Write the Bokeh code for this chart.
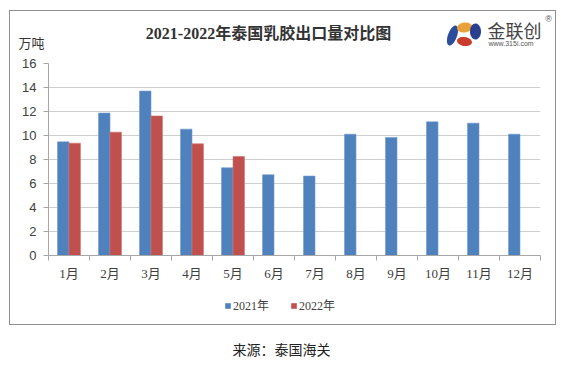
import numpy as np
from bokeh.plotting import figure
from bokeh.models import (ColumnDataSource, FixedTicker, Label, Legend, LegendItem,
                          Div, Range1d)
from bokeh.layouts import column
from bokeh.embed import file_html
from bokeh.resources import INLINE

months = ["1月", "2月", "3月", "4月", "5月", "6月", "7月", "8月", "9月", "10月", "11月", "12月"]
v2021 = [9.47, 11.87, 13.7, 10.53, 7.31, 6.73, 6.62, 10.11, 9.84, 11.14, 11.03, 10.11]
months_2022 = months[:5]
v2022 = [9.36, 10.28, 11.63, 9.31, 8.25]
y_ticks = [0, 2, 4, 6, 8, 10, 12, 14, 16]

title_text = "2021-2022年泰国乳胶出口量对比图"
unit_text = "万吨"
source_text = "来源：泰国海关"
series_names = ["2021年", "2022年"]

BLUE = "#4F81BD"
RED = "#C0504D"
CJK = "Noto Sans CJK SC"
SERIF = "Liberation Serif, Noto Sans CJK SC"

W = 545
HH = 42          # header height
CH = 237         # chart height
FH = 34          # footer (legend) height

OX, OY = 10, 11  # page position of the boxed content origin


def blank(height):
    f = figure(width=W, height=height, output_backend="svg", toolbar_location=None,
               x_range=Range1d(0, W), y_range=Range1d(0, height),
               x_axis_type=None, y_axis_type=None, title=None,
               min_border=0, min_border_left=0, min_border_right=0,
               min_border_top=0, min_border_bottom=0)
    f.frame_align = False
    f.grid.visible = False
    f.outline_line_color = None
    f.background_fill_color = "white"
    f.border_fill_color = "white"
    return f


# ---------------- header (title, unit, logo) ----------------
h = blank(HH)


def hx(px):
    return px - OX


def hy(py):
    return HH - (py - OY)


h.add_layout(Label(x=hx(268), y=hy(32.5), text=title_text,
                   text_align="center", text_baseline="middle", text_font=SERIF,
                   text_font_size="16px", text_font_style="bold", text_color="#333333"))
h.add_layout(Label(x=hx(18), y=hy(42), text=unit_text,
                   text_align="left", text_baseline="middle", text_font=CJK,
                   text_font_size="13px", text_color="#333333"))


def ell(cx, cy, rx, ry, ang):
    t = np.linspace(0, 2 * np.pi, 40)
    xs = rx * np.cos(t)
    ys = ry * np.sin(t)
    c, s = np.cos(ang), np.sin(ang)
    return ([hx(cx + a * c - b * s) for a, b in zip(xs, ys)],
            [hy(cy + a * s + b * c) for a, b in zip(xs, ys)])


for (cx, cy, rx, ry, ang, col) in [(452, 35, 4.5, 10.5, 0.35, "#2E4C9C"),
                                   (464, 27, 7.5, 5, -0.15, "#E9A23B"),
                                   (464, 41, 7.5, 4.5, 0.15, "#C93B2C"),
                                   (475, 31, 5.5, 8, 0.0, "#2B3F8F")]:
    xs, ys = ell(cx, cy, rx, ry, ang)
    h.patch(xs, ys, fill_color=col, line_color=None)

h.add_layout(Label(x=hx(487), y=hy(29), text="金联创",
                   text_align="left", text_baseline="middle", text_font=CJK,
                   text_font_size="18px", text_color="#444444"))
h.add_layout(Label(x=hx(488), y=hy(42.5), text="www.315i.com",
                   text_align="left", text_baseline="middle", text_font="Liberation Sans",
                   text_font_size="7px", text_color="#555555"))
h.add_layout(Label(x=hx(548), y=hy(18), text="®",
                   text_align="center", text_baseline="middle", text_font="Liberation Sans",
                   text_font_size="9px", text_color="#555555"))

# ---------------- chart ----------------
p = figure(width=W, height=CH, output_backend="svg", toolbar_location=None,
           x_range=Range1d(0.5, 12.5), y_range=Range1d(0, 16),
           min_border_left=38, min_border_right=15, min_border_top=10, min_border_bottom=35,
           title=None)
p.frame_align = False
p.outline_line_color = None
p.background_fill_color = "white"
p.border_fill_color = "white"

x1 = np.arange(1, len(v2021) + 1)
x2 = np.arange(1, len(v2022) + 1)
s1 = ColumnDataSource(dict(x=x1 - 0.14, top=v2021))
s2 = ColumnDataSource(dict(x=x2 + 0.14, top=v2022))
p.vbar(x="x", top="top", width=0.28, source=s1, fill_color=BLUE, line_color="#6F9AD0", line_width=0.6)
p.vbar(x="x", top="top", width=0.28, source=s2, fill_color=RED, line_color="#D07572", line_width=0.6)

p.yaxis.ticker = FixedTicker(ticks=y_ticks)
p.yaxis.axis_line_color = "#A6A6A6"
p.yaxis.major_tick_line_color = "#A6A6A6"
p.yaxis.major_tick_out = 5
p.yaxis.major_tick_in = 0
p.yaxis.minor_tick_line_color = None
p.yaxis.major_label_standoff = 7
p.yaxis.major_label_text_font = "Liberation Sans"
p.yaxis.major_label_text_font_size = "13px"
p.yaxis.major_label_text_color = "#404040"

p.xaxis.ticker = FixedTicker(ticks=list(x1), minor_ticks=list(np.arange(0.5, len(months) + 1, 1.0)))
p.xaxis.major_label_overrides = {int(i): m for i, m in zip(x1, months)}
p.xaxis.axis_line_color = "#A6A6A6"
p.xaxis.major_tick_line_color = None
p.xaxis.major_tick_out = 0
p.xaxis.major_tick_in = 0
p.xaxis.minor_tick_line_color = "#A6A6A6"
p.xaxis.minor_tick_out = 5
p.xaxis.minor_tick_in = 0
p.xaxis.major_label_standoff = 5
p.xaxis.major_label_text_font = SERIF
p.xaxis.major_label_text_font_size = "13px"
p.xaxis.major_label_text_color = "#404040"

p.xgrid.grid_line_color = None
p.ygrid.grid_line_color = "#CFCFCF"
p.ygrid.ticker = FixedTicker(ticks=y_ticks)

# ---------------- footer (legend) ----------------
f = blank(FH)
# zero-height proxy bars, only used to draw the legend swatches
e1 = f.vbar(x=[0], top=[0], width=1, fill_color=BLUE, line_color=None)
e2 = f.vbar(x=[0], top=[0], width=1, fill_color=RED, line_color=None)
legend = Legend(items=[LegendItem(label=series_names[0], renderers=[e1]),
                       LegendItem(label=series_names[1], renderers=[e2])],
                orientation="horizontal", location=(224 - OX, 9),
                glyph_width=7, glyph_height=7, label_standoff=2, spacing=21,
                padding=0, margin=0, border_line_color=None, background_fill_alpha=0,
                label_text_font=SERIF, label_text_font_size="12px", label_text_color="#404040",
                label_height=20)
f.add_layout(legend, "center")

box = column(h, p, f, spacing=0, styles={"border": "1px solid #8f8f8f"})
src = Div(text=source_text, width=547, height=40,
          styles={"text-align": "center", "font-family": CJK, "font-size": "14px",
                  "color": "#222222", "padding-top": "9px", "padding-right": "12px"})

layout = column(box, src, spacing=0, styles={"margin-left": "9px", "margin-top": "10px"})
open("out.html", "w").write(file_html(layout, INLINE))
